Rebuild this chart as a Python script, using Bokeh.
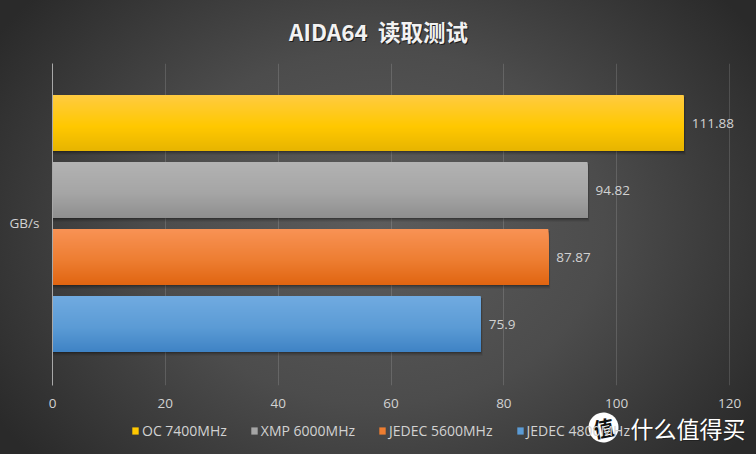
from bokeh.embed import file_html
from bokeh.resources import INLINE
from bokeh.plotting import figure
from bokeh.models import (ColumnDataSource, Range1d, Legend, LegendItem, Label,
                          PolyAnnotation, FixedTicker)
from bokeh.core.properties import value
import numpy as np

TITLE = "AIDA64\u00a0 读取测试"
UNIT = "GB/s"
series = ["OC 7400MHz", "XMP 6000MHz", "JEDEC 5600MHz", "JEDEC 4800MHz"]
series_colors = ["#ffc800", "#a5a5a5", "#ed7d31", "#5b9bd5"]
values = [111.88, 94.82, 87.87, 75.9]
labels = ["111.88", "94.82", "87.87", "75.9"]
ticks = [0, 20, 40, 60, 80, 100, 120]

W, H = 756, 454
L, T, FH = 52, 63, 322
FW = W - L
ppu_x = 5.642
ppu_y = 67.0
ymid = 1.5 + 1.0 / ppu_y
half = FH / ppu_y / 2
BAR = 56 / ppu_y
FONT = "Open Sans"
TXT = "#d2d2d2"
FS = "13.5px"

stops = [
    ((255, 203, 64), (255, 200, 0), (230, 180, 0)),
    ((178, 178, 178), (165, 165, 165), (142, 142, 142)),
    ((248, 146, 84), (237, 125, 49), (224, 100, 16)),
    ((112, 170, 224), (91, 155, 213), (62, 130, 196)),
]

p = figure(width=W, height=H, output_backend="svg", toolbar_location=None,
           x_range=Range1d(0, FW / ppu_x), y_range=Range1d(ymid + half, ymid - half),
           min_border_left=L, min_border_top=T, min_border_right=0,
           min_border_bottom=H - T - FH, frame_width=FW, frame_height=FH,
           background_fill_color=None, border_fill_color=None, outline_line_color=None)
p.styles = {"position": "absolute", "left": "0", "top": "0",
            "background": "radial-gradient(ellipse 60% 78% at 50% 50%, #5c5c5c 0%, #4c4c4c 50%, #2a2a2a 100%)"}

for i, (v, st) in enumerate(zip(values, stops)):
    top0 = i - BAR / 2
    for k, a in zip([4, 3, 2, 1], [0.05, 0.07, 0.1, 0.16]):
        p.quad(left=[0], right=[v + k * 0.5 / ppu_x], top=[top0 + 2 / ppu_y],
               bottom=[top0 + BAR + k / ppu_y], fill_color="#000000", fill_alpha=a, line_color=None)
    n = 56
    fr = np.arange(n) / n
    cols = []
    for f in fr:
        if f < 0.55:
            g = f / 0.55
            c = [st[0][j] + (st[1][j] - st[0][j]) * g for j in range(3)]
        else:
            g = (f - 0.55) / 0.45
            c = [st[1][j] + (st[2][j] - st[1][j]) * g for j in range(3)]
        cols.append("#%02x%02x%02x" % tuple(int(round(x)) for x in c))
    src = ColumnDataSource(dict(left=[0] * n, right=[v] * n, top=list(top0 + fr * BAR),
                                bottom=[top0 + BAR] * n, color=cols))
    p.quad(left="left", right="right", top="top", bottom="bottom", source=src,
           fill_color="color", line_color=None)

p.text(x=values, y=list(range(4)), text=labels, text_color=TXT, text_font=value(FONT),
       text_font_size=FS, text_baseline="middle", x_offset=8)

ax = p.xaxis[0]
ax.ticker = FixedTicker(ticks=ticks)
ax.axis_line_color = None
ax.major_tick_line_color = None
ax.minor_tick_line_color = None
ax.major_label_text_color = TXT
ax.major_label_text_font = FONT
ax.major_label_text_font_size = FS
ax.major_label_standoff = 7

ay = p.yaxis[0]
ay.ticker = FixedTicker(ticks=[])
ay.axis_line_color = "#a8a8a8"
ay.major_tick_line_color = None
ay.minor_tick_line_color = None
ay.major_label_text_font_size = "0px"

p.ygrid.visible = False
p.xgrid.ticker = FixedTicker(ticks=ticks)
p.xgrid.grid_line_color = "#ffffff"
p.xgrid.grid_line_alpha = 0.14
p.xgrid.grid_line_width = 1

# transparent overlay figure whose frame is the whole page: title, legend, watermark
q = figure(width=W, height=H, output_backend="svg", toolbar_location=None,
           x_range=Range1d(0, W), y_range=Range1d(H, 0), x_axis_type=None, y_axis_type=None,
           min_border=0, background_fill_color=None, border_fill_color=None, outline_line_color=None)
q.grid.visible = False
q.styles = {"position": "absolute", "left": "0", "top": "0", "pointer-events": "none"}

items = []
for s, c in zip(series, series_colors):
    r = q.quad(left=[float("nan")], right=[float("nan")], top=[float("nan")], bottom=[float("nan")],
               fill_color=c, line_color=None)
    items.append(LegendItem(label=s, renderers=[r]))
leg = Legend(items=items, orientation="horizontal", location=(131, H - 440), background_fill_alpha=0,
             border_line_color=None, glyph_width=8, glyph_height=9, label_standoff=3, spacing=23,
             padding=0, margin=0, label_text_color=TXT, label_text_font=FONT, label_text_font_size="14px",
             label_height=14)
q.add_layout(leg, "center")

q.add_layout(Label(x=9, y=222.5, text=UNIT, text_align="left", text_baseline="middle", text_color=TXT,
                   text_font=FONT, text_font_size=FS))

for dx, col in [(1, "#1c1c1c"), (0, "#f2f2f2")]:
    q.add_layout(Label(x=378 + dx, y=30 + dx, text=TITLE, text_align="center", text_baseline="middle",
                       text_color=col, text_font="Noto Sans CJK SC", text_font_style="bold",
                       text_font_size="22.5px"))

theta = np.linspace(0, 2 * np.pi, 60)
q.add_layout(PolyAnnotation(xs=list(603 + 15 * np.cos(theta)), ys=list(427 + 15 * np.sin(theta)),
                            fill_color="#ffffff", fill_alpha=1, line_color=None, level="overlay"))
q.add_layout(Label(x=603, y=427, text="值", angle=0.2, text_align="center", text_baseline="middle",
                   text_color="#111111", text_font="Noto Sans CJK SC", text_font_style="bold",
                   text_font_size="21px", level="overlay"))
for dx, col in [(1, "#222222"), (0, "#ffffff")]:
    q.add_layout(Label(x=630 + dx, y=427 + dx, text="什么值得买", text_align="left", text_baseline="middle",
                       text_color=col, text_font="Noto Sans CJK SC", text_font_size="23px", level="overlay"))

open("out.html", "w").write(file_html([p, q], INLINE))
